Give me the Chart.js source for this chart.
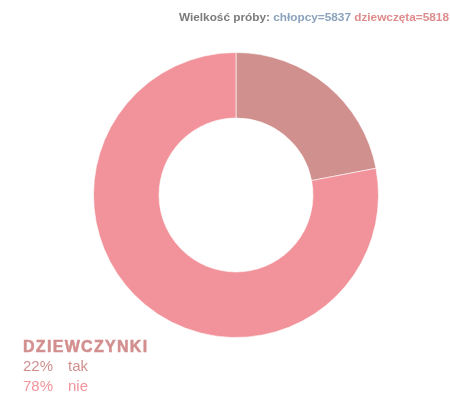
<!DOCTYPE html>
<html>
<head>
<meta charset="utf-8">
<script src="https://cdn.jsdelivr.net/npm/chart.js@4/dist/chart.umd.min.js"></script>
<style>
	html, body { margin: 0; padding: 0; background: #fff; }
	#wrap { position: relative; width: 450px; height: 396px; font-family: "Liberation Sans", Arial, sans-serif; }
	#chart { position: absolute; left: 0; top: 0; }
	#title { position: absolute; right: 1px; top: 10px; font-size: 11.8px; font-weight: bold; color: #7b7b7b; white-space: nowrap; }
	#title .boys { color: #8ba3bd; }
	#title .girls { color: #df8c8c; }
	#legend { position: absolute; left: 23px; top: 338px; }
	#legend .head { font-size: 16px; font-weight: bold; color: #d38f8f; letter-spacing: 1.3px; line-height: 18px; -webkit-text-stroke: 0.5px #d38f8f; }
	#legend .row { font-size: 15px; line-height: 20px; }
	#legend .row span { display: inline-block; width: 45px; }
</style>
</head>
<body>
<div id="wrap">
	<canvas id="chart" width="450" height="396"></canvas>
	<div id="title">Wielkość próby: <span class="boys">chłopcy=5837</span> <span class="girls">dziewczęta=5818</span></div>
	<div id="legend"></div>
</div>
<script>
// odpowiedzi dziewczynek
var labels = ['tak', 'nie'];
var values = [22, 78];
var colors = ['#d0908e', '#f2939b'];
var groupName = 'DZIEWCZYNKI';

// legenda pod wykresem
var legend = document.getElementById('legend');
var head = document.createElement('div');
head.className = 'head';
head.textContent = groupName;
legend.appendChild(head);
for (var i = 0; i < labels.length; i++) {
	var row = document.createElement('div');
	row.className = 'row';
	row.style.color = colors[i];
	var pct = document.createElement('span');
	pct.textContent = values[i] + '%';
	row.appendChild(pct);
	row.appendChild(document.createTextNode(labels[i]));
	legend.appendChild(row);
}

var ctx = document.getElementById('chart');
var chart = new Chart(ctx, {
	type: 'doughnut',
	data: {
		labels: labels,
		datasets: [{
			data: values,
			backgroundColor: colors,
			borderColor: 'rgba(255,255,255,0.6)',
			borderWidth: 1
		}]
	},
	options: {
		responsive: false,
		animation: false,
		cutout: '54%',
		layout: { padding: { left: 93, right: 71, top: 52, bottom: 58 } },
		plugins: {
			legend: { display: false },
			tooltip: { enabled: false }
		}
	}
});
</script>
</body>
</html>
